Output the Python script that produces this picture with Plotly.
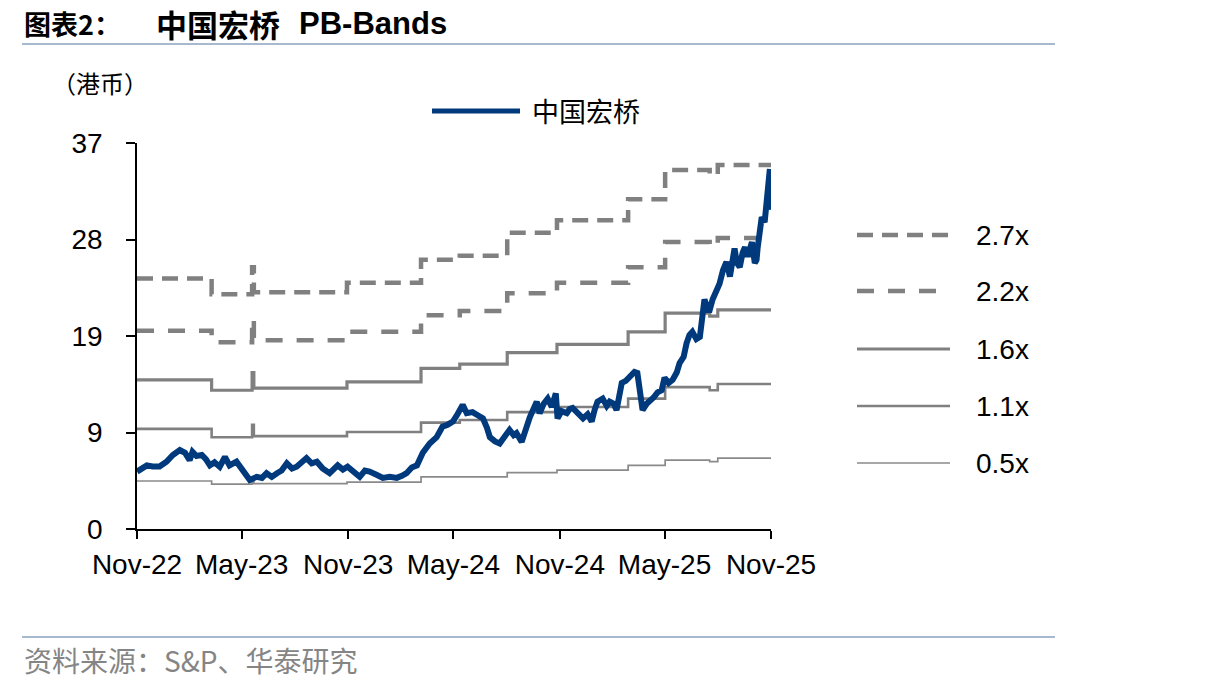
import plotly.graph_objects as go

# ---------------- data ----------------
price_dates = [
    "2022-11-01","2022-11-10","2022-11-18","2022-11-28","2022-12-10","2022-12-22",
    "2023-01-02","2023-01-14","2023-01-23","2023-01-31","2023-02-05","2023-02-12",
    "2023-02-21","2023-02-28","2023-03-07","2023-03-15","2023-03-24","2023-04-02",
    "2023-04-10","2023-04-22","2023-05-03","2023-05-15","2023-05-27","2023-06-05",
    "2023-06-13","2023-06-22","2023-07-01","2023-07-09","2023-07-18","2023-07-27",
    "2023-08-04","2023-08-13","2023-08-21","2023-08-30","2023-09-08","2023-09-18",
    "2023-09-30","2023-10-14","2023-10-23","2023-10-31","2023-11-11","2023-11-21",
    "2023-11-30","2023-12-08","2023-12-20","2023-12-31","2024-01-12","2024-01-24",
    "2024-02-02","2024-02-10","2024-02-19","2024-02-28","2024-03-09","2024-03-21",
    "2024-04-02","2024-04-12","2024-04-21","2024-04-30","2024-05-08","2024-05-17",
    "2024-05-24","2024-06-03","2024-06-12","2024-06-21","2024-06-28","2024-07-03",
    "2024-07-12","2024-07-20","2024-07-29","2024-08-06","2024-08-13","2024-08-18",
    "2024-08-27","2024-09-03","2024-09-10","2024-09-22","2024-09-27","2024-10-04",
    "2024-10-11","2024-10-18","2024-10-25","2024-10-28","2024-11-04","2024-11-13",
    "2024-11-18","2024-11-23","2024-12-02","2024-12-11","2024-12-19","2024-12-26",
    "2024-12-31","2025-01-05","2025-01-14","2025-01-21","2025-01-26","2025-02-02",
    "2025-02-07","2025-02-16","2025-02-23","2025-03-02","2025-03-10","2025-03-15",
    "2025-03-20","2025-03-24","2025-03-31","2025-04-05","2025-04-12","2025-04-19",
    "2025-04-26","2025-05-01","2025-05-08","2025-05-15","2025-05-22","2025-05-27",
    "2025-06-03","2025-06-08","2025-06-13","2025-06-18","2025-06-25","2025-07-01",
    "2025-07-06","2025-07-09","2025-07-15","2025-07-18","2025-07-23","2025-07-30",
    "2025-08-04","2025-08-10","2025-08-16","2025-08-22","2025-08-25","2025-08-30",
    "2025-09-03","2025-09-08","2025-09-13","2025-09-17","2025-09-22","2025-09-25",
    "2025-09-29","2025-10-04","2025-10-07","2025-10-09","2025-10-13","2025-10-16",
    "2025-10-21","2025-10-25","2025-10-27","2025-10-30","2025-10-31","2025-11-01",
]
price_values = [
    5.5, 5.9, 6.1, 6.0, 6.0, 6.45,
    7.1, 7.57, 7.3, 6.6, 7.4, 7.0,
    7.1, 6.7, 6.1, 6.4, 5.97, 6.9,
    6.1, 6.45, 5.6, 4.7, 5.0, 4.9,
    5.35, 5.0, 5.35, 5.6, 6.3, 5.8,
    5.97, 6.4, 6.8, 6.3, 6.45, 5.8,
    5.35, 6.1, 5.7, 5.97, 5.5, 5.0,
    5.6, 5.5, 5.2, 4.9, 5.0, 4.9,
    5.1, 5.35, 5.9, 6.1, 7.3, 8.2,
    8.8, 9.8, 10.0, 10.3, 11.0, 11.9,
    11.1, 11.2, 10.9, 10.6, 9.7, 8.8,
    8.4, 8.2, 8.9, 9.5, 9.0, 9.2,
    8.35, 9.5, 10.7, 12.2, 11.1, 12.0,
    12.5, 11.7, 13.0, 10.6, 11.3, 11.1,
    11.5, 11.6, 11.0, 10.6, 11.0, 10.3,
    11.4, 12.2, 12.5, 11.8, 12.2, 12.0,
    11.4, 14.0, 14.2, 14.6, 15.05, 14.95,
    13.0, 11.4, 12.0, 12.2, 12.6, 13.1,
    13.3, 14.5, 14.0, 14.3, 15.0, 15.9,
    16.5, 17.8, 18.6, 18.9, 18.2, 18.4,
    20.5, 22.0, 21.0, 21.0, 22.0, 22.9,
    23.5, 24.8, 25.6, 24.2, 25.5, 26.9,
    25.5, 25.1, 26.5, 27.0, 26.1, 26.8,
    27.5, 25.5, 25.8, 27.0, 28.5, 29.9,
    29.4, 31.5, 32.5, 34.5, 32.0, 30.6,
]

band_dates = [
    "2022-11-01","2023-03-10","2023-05-19","2023-05-22","2023-10-30","2024-03-06",
    "2024-05-12","2024-08-02","2024-10-27","2025-02-27","2025-05-02","2025-07-18",
    "2025-08-01","2025-11-01",
]
band_27x = [24.0, 22.5, 25.1, 22.7, 23.6, 25.8, 26.2, 28.4, 29.6, 31.6, 34.4, 34.0, 34.9, 35.1]
band_22x = [19.0, 17.9, 20.2, 18.1, 18.9, 20.5, 20.9, 22.6, 23.6, 25.1, 27.5, 27.1, 27.9, 28.0]
band_16x = [14.3, 13.3, 15.0, 13.5, 14.1, 15.4, 15.8, 16.9, 17.7, 18.9, 20.7, 20.4, 21.0, 21.0]
band_11x = [9.6, 8.8, 10.0, 8.9, 9.3, 10.2, 10.45, 11.2, 11.7, 12.5, 13.6, 13.3, 13.9, 13.9]
band_05x = [4.6, 4.3, 4.7, 4.35, 4.5, 5.0, 5.0, 5.4, 5.65, 6.1, 6.6, 6.45, 6.8, 6.8]

band_labels = ["2.7x", "2.2x", "1.6x", "1.1x", "0.5x"]
series_name = "中国宏桥"

x_tickvals = ["2022-11-01","2023-05-01","2023-11-01","2024-05-01","2024-11-01","2025-05-01","2025-11-01"]
x_ticktext = ["Nov-22","May-23","Nov-23","May-24","Nov-24","May-25","Nov-25"]
y_tickvals = [0, 9.25, 18.5, 27.75, 37]
y_ticktext = ["0", "9", "19", "28", "37"]

# ---------------- styles ----------------
GREY = "#808080"
BLUE = "#003A7C"
band_styles = [
    dict(width=4.5, dash="16px,9px", color=GREY),
    dict(width=4.5, dash="17px,14px", color=GREY),
    dict(width=3.2, dash="solid", color=GREY),
    dict(width=2.6, dash="solid", color=GREY),
    dict(width=1.7, dash="solid", color="#8a8a8a"),
]
band_series = [band_27x, band_22x, band_16x, band_11x, band_05x]

W, H = 1206, 692
L, R, T, B = 137, 771, 143, 529  # plot area in pixels


def px(x):
    return (x - L) / (R - L)


def py(y):
    return (B - y) / (B - T)


fig = go.Figure()
for vals, lab, st in zip(band_series, band_labels, band_styles):
    fig.add_trace(go.Scatter(
        x=band_dates, y=vals, name=lab, mode="lines",
        line=dict(shape="hv", **st), showlegend=False, hoverinfo="skip",
    ))
fig.add_trace(go.Scatter(
    x=price_dates, y=price_values, name=series_name, mode="lines",
    line=dict(color=BLUE, width=6), showlegend=False,
))

FONT = "Liberation Sans, Arial, Noto Sans CJK SC, sans-serif"
CJK = "Noto Sans CJK SC, sans-serif"

shapes = []
annotations = []

# header / footer rules
for yy in (44, 637):
    shapes.append(dict(type="line", xref="paper", yref="paper",
                       x0=px(22), x1=px(1055), y0=py(yy), y1=py(yy),
                       line=dict(color="#A7B9CE", width=2)))

# title
annotations.append(dict(text="<b>图表2：</b>", xref="paper", yref="paper",
                        x=px(22), y=py(23), xanchor="left", yanchor="middle",
                        showarrow=False, font=dict(family=CJK, size=27, color="black")))
annotations.append(dict(text="<b>中国宏桥</b>", xref="paper", yref="paper",
                        x=px(154), y=py(23), xanchor="left", yanchor="middle",
                        showarrow=False, font=dict(family=CJK, size=31, color="black")))
annotations.append(dict(text="<b>PB-Bands</b>", xref="paper", yref="paper",
                        x=px(297), y=py(23), xanchor="left", yanchor="middle",
                        showarrow=False, font=dict(family=FONT, size=31, color="black")))
# unit
annotations.append(dict(text="（港币）", xref="paper", yref="paper",
                        x=px(50), y=py(82), xanchor="left", yanchor="middle",
                        showarrow=False, font=dict(family=CJK, size=24, color="black")))
# source
annotations.append(dict(text="资料来源：S&P、华泰研究", xref="paper", yref="paper",
                        x=px(22), y=py(660), xanchor="left", yanchor="middle",
                        showarrow=False, font=dict(family=CJK, size=28, color="#858585")))

# top legend (price)
shapes.append(dict(type="line", xref="paper", yref="paper",
                   x0=px(432), x1=px(520), y0=py(111), y1=py(111),
                   line=dict(color=BLUE, width=5)))
annotations.append(dict(text=series_name, xref="paper", yref="paper",
                        x=px(530), y=py(111), xanchor="left", yanchor="middle",
                        showarrow=False, font=dict(family=CJK, size=27, color="black")))

# right legend (bands)
leg_y = [235, 291, 349, 406, 463]
for lab, st, yy in zip(band_labels, band_styles, leg_y):
    shapes.append(dict(type="line", xref="paper", yref="paper",
                       x0=px(857), x1=px(950), y0=py(yy), y1=py(yy),
                       line=dict(color=st["color"], width=st["width"], dash=st["dash"])))
    annotations.append(dict(text=lab, xref="paper", yref="paper",
                            x=px(974), y=py(yy), xanchor="left", yanchor="middle",
                            showarrow=False, font=dict(family=FONT, size=28, color="black")))

fig.update_layout(
    width=W, height=H, autosize=False,
    margin=dict(l=L, r=W - R, t=T, b=H - B, pad=0),
    paper_bgcolor="white", plot_bgcolor="white",
    showlegend=False,
    shapes=shapes, annotations=annotations,
    font=dict(family=FONT, color="black"),
)
fig.update_xaxes(
    type="date", range=["2022-11-01", "2025-11-01"],
    tickvals=x_tickvals, ticktext=x_ticktext,
    showgrid=False, zeroline=False,
    showline=True, linecolor="black", linewidth=1.5,
    ticks="outside", ticklen=8, tickwidth=1.5, tickcolor="black",
    tickfont=dict(family=FONT, size=28, color="black"),
    ticklabelstandoff=2,
)
fig.update_yaxes(
    range=[0, 37], tickvals=y_tickvals, ticktext=y_ticktext,
    showgrid=False, zeroline=False,
    showline=True, linecolor="black", linewidth=1.5,
    ticks="outside", ticklen=9, tickwidth=1.5, tickcolor="black",
    tickfont=dict(family=FONT, size=28, color="black"),
    ticklabelstandoff=18,
)

fig.write_html("out.html")
